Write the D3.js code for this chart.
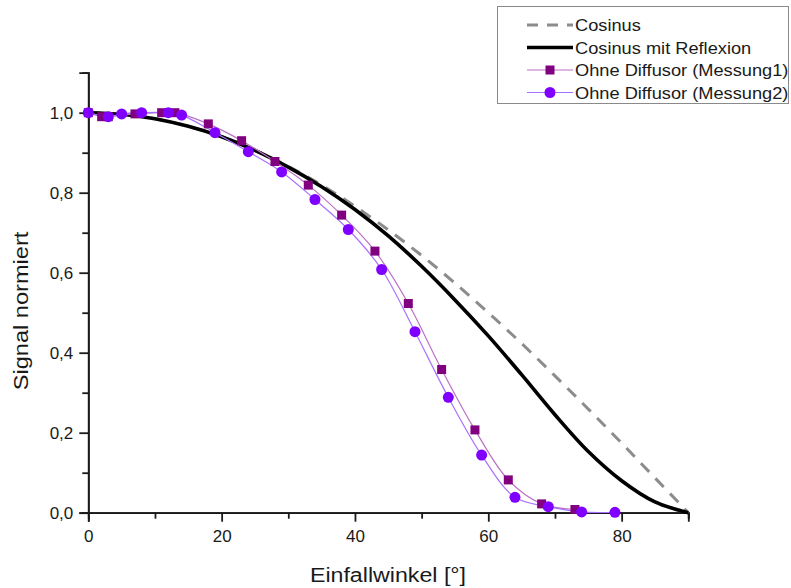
<!DOCTYPE html>
<html>
<head>
<meta charset="utf-8">
<script src="https://cdn.jsdelivr.net/npm/d3@7"></script>
<style>
  body { margin: 0; background: #fff; }
  text { font-family: "Liberation Sans", Arial, sans-serif; }
</style>
</head>
<body>
<script>
var w = 791;
var h = 588;

// angle grid for the two theory curves
var theoryAngles = [0, 5, 10, 15, 20, 25, 30, 35, 40, 45, 50, 55, 60, 65, 70, 75, 80, 85, 90];
var cosinus = [1, 0.996, 0.985, 0.966, 0.94, 0.906, 0.866, 0.819, 0.766, 0.707, 0.643,
  0.574, 0.5, 0.423, 0.342, 0.259, 0.174, 0.087, 0];
var cosReflexion = [1, 0.996, 0.985, 0.966, 0.94, 0.906, 0.864, 0.815, 0.758, 0.692, 0.616,
  0.532, 0.442, 0.345, 0.245, 0.153, 0.08, 0.027, 0];

// measurements
var messung1X = [0, 2, 3, 7, 11, 13, 18, 23, 28, 33, 38, 43, 48, 53, 58, 63, 68, 73];
var messung1Y = [1.0, 0.99, 0.99, 0.997, 1.0, 1.0, 0.972, 0.93, 0.878, 0.819, 0.744, 0.654,
  0.523, 0.358, 0.207, 0.082, 0.022, 0.008];
var messung2X = [0, 3, 5, 8, 12, 14, 19, 24, 29, 34, 39, 44, 49, 54, 59, 64, 69, 74, 79];
var messung2Y = [1.0, 0.99, 0.997, 1.0, 1.0, 0.994, 0.95, 0.9025, 0.852, 0.783, 0.708, 0.608,
  0.4525, 0.2885, 0.144, 0.0385, 0.015, 0.002, 0.001];

var xTicks = [0, 20, 40, 60, 80];
var xMinor = [10, 30, 50, 70, 90];
var yTicks = [0, 0.2, 0.4, 0.6, 0.8, 1.0];
var yMinor = [0.1, 0.3, 0.5, 0.7, 0.9];
var legendLabels = ["Cosinus", "Cosinus mit Reflexion", "Ohne Diffusor (Messung1)", "Ohne Diffusor (Messung2)"];

var svg = d3.select("body")
.append("svg")
.attr("width", w)
.attr("height", h);

var x = d3.scaleLinear().domain([0, 90]).range([88.3, 688.3]);
var y = d3.scaleLinear().domain([0, 1.1]).range([512.7, 72.7]);

var fmt = function(d) { return d3.format(".1f")(d).replace(".", ","); };

// x axis
var xAxis = svg.append("g")
.attr("transform", "translate(0," + y(0) + ")")
.call(d3.axisBottom(x).tickValues(xTicks).tickSize(9).tickPadding(8).tickFormat(d3.format("d")));
xAxis.append("g")
.call(d3.axisBottom(x).tickValues(xMinor).tickSize(6).tickFormat(""));

// y axis
var yAxis = svg.append("g")
.attr("transform", "translate(" + x(0) + ",0)")
.call(d3.axisLeft(y).tickValues(yTicks).tickSize(9).tickPadding(6).tickFormat(fmt));
yAxis.append("g")
.call(d3.axisLeft(y).tickValues(yMinor).tickSize(6).tickFormat(""));

svg.selectAll(".domain").attr("stroke", "#1a1a1a").attr("stroke-width", 1.8);
svg.selectAll(".tick line").attr("stroke", "#1a1a1a").attr("stroke-width", 1.8);
svg.selectAll(".tick text")
.attr("font-size", "17px")
.attr("font-family", "Liberation Sans, Arial, sans-serif")
.attr("fill", "#1a1a1a");

var plot = svg.append("g");

var smooth = d3.line()
.x(function(d) { return x(d[0]); })
.y(function(d) { return y(d[1]); })
.curve(d3.curveCatmullRom);

var cosData = theoryAngles.map(function(a, i) { return [a, cosinus[i]]; });
var refData = theoryAngles.map(function(a, i) { return [a, cosReflexion[i]]; });
var m1Data = messung1X.map(function(a, i) { return [a, messung1Y[i]]; });
var m2Data = messung2X.map(function(a, i) { return [a, messung2Y[i]]; });

plot.append("path")
.attr("d", smooth(cosData))
.attr("fill", "none")
.attr("stroke", "#8c8c8c")
.attr("stroke-width", 3)
.attr("stroke-dasharray", "12,9");

plot.append("path")
.attr("d", smooth(refData))
.attr("fill", "none")
.attr("stroke", "#000")
.attr("stroke-width", 3.6);

plot.append("path")
.attr("d", smooth(m1Data))
.attr("fill", "none")
.attr("stroke", "#bb70c4")
.attr("stroke-width", 1.2);

plot.append("path")
.attr("d", smooth(m2Data))
.attr("fill", "none")
.attr("stroke", "#a870ff")
.attr("stroke-width", 1.2);

plot.selectAll("rect.m1")
.data(m1Data)
.enter()
.append("rect")
.attr("class", "m1")
.attr("x", function(d) { return x(d[0]) - 4.5; })
.attr("y", function(d) { return y(d[1]) - 4.5; })
.attr("width", 9)
.attr("height", 9)
.attr("fill", "#800080");

plot.selectAll("circle.m2")
.data(m2Data)
.enter()
.append("circle")
.attr("class", "m2")
.attr("cx", function(d) { return x(d[0]); })
.attr("cy", function(d) { return y(d[1]); })
.attr("r", 5.5)
.attr("fill", "#8000ff");

// axis titles (slightly wide lettering as in the original)
svg.append("text")
.text("Einfallwinkel [°]")
.attr("transform", "translate(388,582) scale(1.16,1)")
.attr("text-anchor", "middle")
.attr("font-size", "20px")
.attr("fill", "#1a1a1a");

svg.append("text")
.text("Signal normiert")
.attr("transform", "translate(28,311) rotate(-90) scale(1.18,1)")
.attr("text-anchor", "middle")
.attr("font-size", "20px")
.attr("fill", "#1a1a1a");

// legend
var legend = svg.append("g");
legend.append("rect")
.attr("x", 497.5)
.attr("y", 6.5)
.attr("width", 291)
.attr("height", 97)
.attr("fill", "#fff")
.attr("stroke", "#8a8a8a")
.attr("stroke-width", 1);

var rowY = [25, 47.5, 70, 92.5];
legendLabels.forEach(function(label, i) {
  var g = legend.append("g").attr("transform", "translate(0," + rowY[i] + ")");
  var line = g.append("line")
  .attr("x1", 527).attr("x2", 573)
  .attr("y1", 0).attr("y2", 0);
  if (i === 0) {
    line.attr("stroke", "#8c8c8c").attr("stroke-width", 3).attr("stroke-dasharray", "11,9");
  } else if (i === 1) {
    line.attr("stroke", "#000").attr("stroke-width", 3.6);
  } else if (i === 2) {
    line.attr("stroke", "#bb70c4").attr("stroke-width", 1.2);
    g.append("rect").attr("x", 545.5).attr("y", -4.5).attr("width", 9).attr("height", 9).attr("fill", "#800080");
  } else {
    line.attr("stroke", "#a870ff").attr("stroke-width", 1.2);
    g.append("circle").attr("cx", 550).attr("cy", 0).attr("r", 5.5).attr("fill", "#8000ff");
  }
  g.append("text")
  .text(label)
  .attr("transform", "translate(575,6) scale(1.14,1)")
  .attr("font-size", "16px")
  .attr("fill", "#1a1a1a");
});
</script>
</body>
</html>
